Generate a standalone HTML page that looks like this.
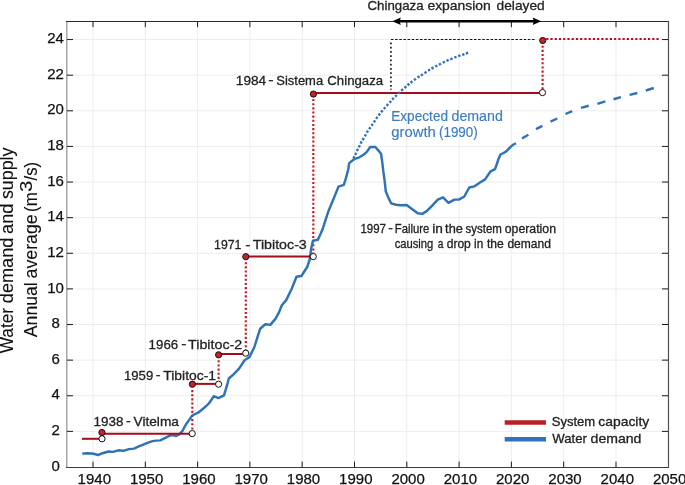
<!DOCTYPE html>
<html><head><meta charset="utf-8"><style>
html,body{margin:0;padding:0;background:#fff;}
svg{display:block;will-change:transform;}
text{font-family:"Liberation Sans",sans-serif;}
</style></head><body>
<svg width="685" height="485" viewBox="0 0 685 485">
<rect width="685" height="485" fill="#fff"/>
<g stroke="#ededed" stroke-width="1"><line x1="93.00" y1="21" x2="93.00" y2="467"/><line x1="145.30" y1="21" x2="145.30" y2="467"/><line x1="197.60" y1="21" x2="197.60" y2="467"/><line x1="249.90" y1="21" x2="249.90" y2="467"/><line x1="302.20" y1="21" x2="302.20" y2="467"/><line x1="354.50" y1="21" x2="354.50" y2="467"/><line x1="406.80" y1="21" x2="406.80" y2="467"/><line x1="459.10" y1="21" x2="459.10" y2="467"/><line x1="511.40" y1="21" x2="511.40" y2="467"/><line x1="563.70" y1="21" x2="563.70" y2="467"/><line x1="616.00" y1="21" x2="616.00" y2="467"/><line x1="67" y1="431.38" x2="668" y2="431.38"/><line x1="67" y1="395.76" x2="668" y2="395.76"/><line x1="67" y1="360.14" x2="668" y2="360.14"/><line x1="67" y1="324.52" x2="668" y2="324.52"/><line x1="67" y1="288.90" x2="668" y2="288.90"/><line x1="67" y1="253.28" x2="668" y2="253.28"/><line x1="67" y1="217.66" x2="668" y2="217.66"/><line x1="67" y1="182.04" x2="668" y2="182.04"/><line x1="67" y1="146.42" x2="668" y2="146.42"/><line x1="67" y1="110.80" x2="668" y2="110.80"/><line x1="67" y1="75.18" x2="668" y2="75.18"/><line x1="67" y1="39.56" x2="668" y2="39.56"/></g>
<g stroke="#1a1a1a" stroke-width="1"><line x1="93.00" y1="461.6" x2="93.00" y2="467"/><line x1="93.00" y1="21.5" x2="93.00" y2="27.2"/><line x1="145.30" y1="461.6" x2="145.30" y2="467"/><line x1="145.30" y1="21.5" x2="145.30" y2="27.2"/><line x1="197.60" y1="461.6" x2="197.60" y2="467"/><line x1="197.60" y1="21.5" x2="197.60" y2="27.2"/><line x1="249.90" y1="461.6" x2="249.90" y2="467"/><line x1="249.90" y1="21.5" x2="249.90" y2="27.2"/><line x1="302.20" y1="461.6" x2="302.20" y2="467"/><line x1="302.20" y1="21.5" x2="302.20" y2="27.2"/><line x1="354.50" y1="461.6" x2="354.50" y2="467"/><line x1="354.50" y1="21.5" x2="354.50" y2="27.2"/><line x1="406.80" y1="461.6" x2="406.80" y2="467"/><line x1="406.80" y1="21.5" x2="406.80" y2="27.2"/><line x1="459.10" y1="461.6" x2="459.10" y2="467"/><line x1="459.10" y1="21.5" x2="459.10" y2="27.2"/><line x1="511.40" y1="461.6" x2="511.40" y2="467"/><line x1="511.40" y1="21.5" x2="511.40" y2="27.2"/><line x1="563.70" y1="461.6" x2="563.70" y2="467"/><line x1="563.70" y1="21.5" x2="563.70" y2="27.2"/><line x1="616.00" y1="461.6" x2="616.00" y2="467"/><line x1="616.00" y1="21.5" x2="616.00" y2="27.2"/></g>
<rect x="66" y="21" width="1" height="447" fill="#a8a8a8"/><rect x="67" y="21" width="1" height="447" fill="#cfcfcf"/>
<line x1="66" y1="21.5" x2="668.5" y2="21.5" stroke="#2a2a2a" stroke-width="1.2"/>
<line x1="66" y1="467.5" x2="668.5" y2="467.5" stroke="#3c3c3c" stroke-width="1.2"/>
<line x1="668.5" y1="21" x2="668.5" y2="468" stroke="#505050" stroke-width="1.2"/>
<g stroke="#1a1a1a" stroke-width="1"><line x1="67" y1="431.38" x2="73" y2="431.38"/><line x1="662" y1="431.38" x2="668" y2="431.38"/><line x1="67" y1="395.76" x2="73" y2="395.76"/><line x1="662" y1="395.76" x2="668" y2="395.76"/><line x1="67" y1="360.14" x2="73" y2="360.14"/><line x1="662" y1="360.14" x2="668" y2="360.14"/><line x1="67" y1="324.52" x2="73" y2="324.52"/><line x1="662" y1="324.52" x2="668" y2="324.52"/><line x1="67" y1="288.90" x2="73" y2="288.90"/><line x1="662" y1="288.90" x2="668" y2="288.90"/><line x1="67" y1="253.28" x2="73" y2="253.28"/><line x1="662" y1="253.28" x2="668" y2="253.28"/><line x1="67" y1="217.66" x2="73" y2="217.66"/><line x1="662" y1="217.66" x2="668" y2="217.66"/><line x1="67" y1="182.04" x2="73" y2="182.04"/><line x1="662" y1="182.04" x2="668" y2="182.04"/><line x1="67" y1="146.42" x2="73" y2="146.42"/><line x1="662" y1="146.42" x2="668" y2="146.42"/><line x1="67" y1="110.80" x2="73" y2="110.80"/><line x1="662" y1="110.80" x2="668" y2="110.80"/><line x1="67" y1="75.18" x2="73" y2="75.18"/><line x1="662" y1="75.18" x2="668" y2="75.18"/><line x1="67" y1="39.56" x2="73" y2="39.56"/><line x1="662" y1="39.56" x2="668" y2="39.56"/></g>
<g font-size="15" fill="#111" stroke="#111" stroke-width="0.25"><text x="55.6" y="470.6" text-anchor="middle">0</text><text x="55.6" y="435.0" text-anchor="middle">2</text><text x="55.6" y="399.4" text-anchor="middle">4</text><text x="55.6" y="363.7" text-anchor="middle">6</text><text x="55.6" y="328.1" text-anchor="middle">8</text><text x="55.6" y="292.5" text-anchor="middle">10</text><text x="55.6" y="256.9" text-anchor="middle">12</text><text x="55.6" y="221.3" text-anchor="middle">14</text><text x="55.6" y="185.6" text-anchor="middle">16</text><text x="55.6" y="150.0" text-anchor="middle">18</text><text x="55.6" y="114.4" text-anchor="middle">20</text><text x="55.6" y="78.8" text-anchor="middle">22</text><text x="55.6" y="43.2" text-anchor="middle">24</text><text x="94.3" y="484.4" text-anchor="middle">1940</text><text x="146.6" y="484.4" text-anchor="middle">1950</text><text x="198.9" y="484.4" text-anchor="middle">1960</text><text x="251.2" y="484.4" text-anchor="middle">1970</text><text x="303.5" y="484.4" text-anchor="middle">1980</text><text x="355.8" y="484.4" text-anchor="middle">1990</text><text x="408.1" y="484.4" text-anchor="middle">2000</text><text x="460.4" y="484.4" text-anchor="middle">2010</text><text x="512.7" y="484.4" text-anchor="middle">2020</text><text x="565.0" y="484.4" text-anchor="middle">2030</text><text x="617.3" y="484.4" text-anchor="middle">2040</text><text x="669.6" y="484.4" text-anchor="middle">2050</text></g>
<path d="M390.95,39.5 H535.5" stroke="#111" stroke-width="1.1" stroke-dasharray="2.5 1.65" fill="none"/>
<path d="M390.9,86.7 V40" stroke="#111" stroke-width="1.6" stroke-dasharray="1.8 2.45" fill="none"/><rect x="390.1" y="88.6" width="1.6" height="1.2" fill="#333"/>
<g stroke="#c4161c" stroke-width="2.1" stroke-dasharray="2.1 2.05" fill="none"><path d="M192.3,390.05 V430.5"/><path d="M218.6,360.25 V381.0"/><path d="M245.8,262.15 V350.0"/><path d="M313.3,99.01 V253.5"/><path d="M542.6,45.65 V89.4"/></g>
<path d="M546.2,39.0 H659" stroke="#b0121e" stroke-width="2.2" stroke-dasharray="2.2 2.04" fill="none"/>
<polyline points="82.2,453.6 86.8,453.2 92.0,453.5 95.5,454.3 98.0,455.0 100.8,453.8 104.3,452.8 108.6,451.5 113.0,451.9 118.3,450.3 123.5,450.8 128.8,449.1 134.0,448.6 139.4,446.1 143.8,444.3 148.1,442.6 152.5,441.1 156.0,440.6 160.4,440.4 164.8,438.2 169.2,435.8 172.7,435.0 176.2,436.0 178.8,434.7 182.3,431.2 185.9,424.5 189.2,419.9 192.4,415.3 198.5,412.5 203.6,408.3 208.7,403.7 213.8,396.2 218.4,398.1 224.0,395.3 225.8,389.3 227.7,382.8 228.8,378.5 233.5,374.4 238.6,369.2 241.7,364.6 244.8,360.0 249.4,357.1 254.4,347.0 257.3,337.6 260.2,328.7 265.3,324.3 270.3,324.9 275.4,318.9 279.0,312.4 281.8,305.2 286.2,300.1 291.5,289.2 296.5,276.8 301.4,276.0 307.2,267.0 309.7,259.5 311.3,248.0 313.0,240.6 317.9,239.8 320.5,234.0 322.5,229.5 325.8,219.1 328.7,210.4 333.0,200.3 338.5,186.6 343.8,184.9 346.0,177.9 348.1,170.0 349.1,163.5 351.2,161.4 354.8,158.8 359.4,157.3 363.5,154.7 366.6,152.1 370.2,147.0 375.4,147.0 378.5,150.6 381.0,153.7 382.1,160.9 383.3,171.2 384.6,180.5 385.8,191.5 388.7,198.4 391.2,203.4 396.1,204.7 401.0,205.2 406.6,205.0 412.3,209.3 417.7,213.3 422.3,213.9 427.0,210.9 432.2,205.7 437.8,199.7 443.0,197.3 448.5,202.8 454.4,199.6 458.8,199.6 464.3,196.5 469.3,187.5 474.2,186.4 479.6,182.7 485.1,179.4 490.6,171.3 495.0,169.1 496.5,165.0 498.3,159.6 500.5,154.5 502.6,153.5 505.9,151.7 508.4,149.1 510.9,146.6 513.1,144.8 516.0,143.2" fill="none" stroke="#2e72b8" stroke-width="2.45" stroke-linejoin="round" stroke-linecap="butt"/>
<g stroke="#2e72b8" stroke-width="2.45"><line x1="521.9" y1="138.5" x2="528.4" y2="134.8"/><line x1="536" y1="129.2" x2="542.4" y2="125.9"/><line x1="550.5" y1="121.6" x2="557.3" y2="118.5"/><line x1="565.5" y1="114" x2="572.2" y2="111.1"/><line x1="581" y1="107.9" x2="588.7" y2="105.8"/><line x1="597.4" y1="103.8" x2="605.4" y2="101.4"/><line x1="613.5" y1="99.2" x2="620.9" y2="97.1"/><line x1="629.6" y1="94.9" x2="637.3" y2="93"/><line x1="645.8" y1="90.5" x2="653.8" y2="88"/></g>
<g stroke="#a30d19" stroke-width="2"><line x1="82" y1="438.8" x2="102" y2="438.8"/><line x1="102" y1="433.7" x2="192.3" y2="433.7"/><line x1="192.3" y1="383.9" x2="218.6" y2="383.9"/><line x1="218.6" y1="354" x2="245.8" y2="354"/><line x1="245.8" y1="256.6" x2="313.3" y2="256.6"/><line x1="313.3" y1="92.9" x2="542.5" y2="92.9"/></g>
<g stroke="#111" stroke-width="1"><circle cx="102" cy="438.8" r="3.1" fill="#fff"/><circle cx="192.2" cy="433.6" r="3.1" fill="#fff"/><circle cx="218.6" cy="384.2" r="3.1" fill="#fff"/><circle cx="245.7" cy="353.2" r="3.1" fill="#fff"/><circle cx="313.3" cy="256.6" r="3.1" fill="#fff"/><circle cx="542.5" cy="92.6" r="3.1" fill="#fff"/><circle cx="101.9" cy="432.5" r="3.1" fill="#c8202a"/><circle cx="192.4" cy="384.2" r="3.1" fill="#c8202a"/><circle cx="218.6" cy="354.8" r="3.1" fill="#c8202a"/><circle cx="245.8" cy="256.7" r="3.1" fill="#c8202a"/><circle cx="313.4" cy="94.1" r="3.1" fill="#c8202a"/><circle cx="542.7" cy="40.5" r="3.1" fill="#c8202a"/></g>
<g stroke="#2e72b8" stroke-width="2.4"><line x1="353.36" y1="158.47" x2="354.44" y2="156.33"/><line x1="355.19" y1="154.89" x2="356.21" y2="152.71"/><line x1="356.88" y1="150.98" x2="357.92" y2="148.82"/><line x1="358.76" y1="147.37" x2="359.84" y2="145.23"/><line x1="360.53" y1="143.56" x2="361.67" y2="141.44"/><line x1="362.58" y1="140.03" x2="363.82" y2="137.97"/><line x1="364.81" y1="136.34" x2="365.99" y2="134.26"/><line x1="366.77" y1="132.62" x2="368.03" y2="130.58"/><line x1="369.12" y1="129.19" x2="370.48" y2="127.21"/><line x1="371.42" y1="125.79" x2="372.78" y2="123.81"/><line x1="373.82" y1="122.29" x2="375.18" y2="120.31"/><line x1="376.11" y1="118.88" x2="377.49" y2="116.92"/><line x1="378.57" y1="115.45" x2="380.03" y2="113.55"/><line x1="381.13" y1="112.22" x2="382.67" y2="110.38"/><line x1="383.81" y1="109.01" x2="385.39" y2="107.19"/><line x1="386.59" y1="105.84" x2="388.21" y2="104.06"/><line x1="389.50" y1="102.74" x2="391.10" y2="100.96"/><line x1="392.17" y1="99.57" x2="393.83" y2="97.83"/><line x1="395.13" y1="96.73" x2="396.87" y2="95.07"/><line x1="398.29" y1="93.68" x2="400.01" y2="92.02"/><line x1="401.26" y1="90.76" x2="403.04" y2="89.14"/><line x1="404.45" y1="87.99" x2="406.25" y2="86.41"/><line x1="407.48" y1="85.27" x2="409.32" y2="83.73"/><line x1="410.56" y1="82.74" x2="412.44" y2="81.26"/><line x1="413.93" y1="80.11" x2="415.87" y2="78.69"/><line x1="417.50" y1="77.56" x2="419.50" y2="76.24"/><line x1="420.88" y1="75.44" x2="422.92" y2="74.16"/><line x1="424.49" y1="73.15" x2="426.51" y2="71.85"/><line x1="428.09" y1="70.85" x2="430.11" y2="69.55"/><line x1="431.46" y1="68.60" x2="433.54" y2="67.40"/><line x1="435.23" y1="66.55" x2="437.37" y2="65.45"/><line x1="438.83" y1="64.74" x2="440.97" y2="63.66"/><line x1="442.72" y1="62.73" x2="444.88" y2="61.67"/><line x1="446.50" y1="60.88" x2="448.70" y2="59.92"/><line x1="450.29" y1="59.36" x2="452.51" y2="58.44"/><line x1="454.29" y1="57.65" x2="456.51" y2="56.75"/><line x1="458.17" y1="56.10" x2="460.43" y2="55.30"/><line x1="462.16" y1="54.78" x2="464.44" y2="54.02"/><line x1="465.87" y1="53.50" x2="468.13" y2="52.70"/></g>
<line x1="398" y1="21.2" x2="535" y2="21.2" stroke="#000" stroke-width="2.5"/>
<path d="M392.3,21.3 L400.8,17.5 L399.6,21.3 L400.8,25.1 Z" fill="#000"/>
<path d="M541.2,21.3 L532.7,17.5 L533.9,21.3 L532.7,25.1 Z" fill="#000"/>
<g font-size="13.5" fill="#222" stroke="#222" stroke-width="0.3"><text x="367.44" y="10.30" textLength="56.17" lengthAdjust="spacingAndGlyphs">Chingaza</text><text x="427.41" y="10.30" textLength="63.42" lengthAdjust="spacingAndGlyphs">expansion</text><text x="496.62" y="10.30" textLength="48.05" lengthAdjust="spacingAndGlyphs">delayed</text></g>
<g font-size="13.5" fill="#222" stroke="#222" stroke-width="0.3"><text x="235.88" y="84.80" textLength="30.33" lengthAdjust="spacingAndGlyphs">1984</text><text x="268.28" y="84.00" textLength="5.36" lengthAdjust="spacingAndGlyphs">-</text><text x="276.32" y="84.80" textLength="46.81" lengthAdjust="spacingAndGlyphs">Sistema</text><text x="327.34" y="84.80" textLength="55.76" lengthAdjust="spacingAndGlyphs">Chingaza</text></g>
<g font-size="13.8" fill="#3b7cc2" stroke="#3b7cc2" stroke-width="0.15"><text x="391.17" y="120.80" textLength="56.91" lengthAdjust="spacingAndGlyphs">Expected</text><text x="451.50" y="120.80" textLength="51.31" lengthAdjust="spacingAndGlyphs">demand</text></g>
<g font-size="13.8" fill="#3b7cc2" stroke="#3b7cc2" stroke-width="0.15"><text x="391.37" y="137.00" textLength="44.52" lengthAdjust="spacingAndGlyphs">growth</text><text x="438.96" y="137.00" textLength="38.79" lengthAdjust="spacingAndGlyphs">(1990)</text></g>
<g font-size="12.3" fill="#222" stroke="#222" stroke-width="0.3"><text x="360.44" y="232.50" textLength="25.56" lengthAdjust="spacingAndGlyphs">1997</text><text x="388.27" y="231.70" textLength="4.67" lengthAdjust="spacingAndGlyphs">-</text><text x="394.87" y="232.50" textLength="34.53" lengthAdjust="spacingAndGlyphs">Failure</text><text x="432.18" y="232.50" textLength="10.62" lengthAdjust="spacingAndGlyphs">in</text><text x="445.11" y="232.50" textLength="17.74" lengthAdjust="spacingAndGlyphs">the</text><text x="465.48" y="232.50" textLength="36.46" lengthAdjust="spacingAndGlyphs">system</text><text x="504.78" y="232.50" textLength="51.22" lengthAdjust="spacingAndGlyphs">operation</text></g>
<g font-size="12.3" fill="#222" stroke="#222" stroke-width="0.3"><text x="394.72" y="247.70" textLength="38.60" lengthAdjust="spacingAndGlyphs">causing</text><text x="437.87" y="247.70" textLength="5.64" lengthAdjust="spacingAndGlyphs">a</text><text x="446.69" y="247.70" textLength="24.11" lengthAdjust="spacingAndGlyphs">drop</text><text x="474.10" y="247.70" textLength="9.17" lengthAdjust="spacingAndGlyphs">in</text><text x="486.92" y="247.70" textLength="16.80" lengthAdjust="spacingAndGlyphs">the</text><text x="507.39" y="247.70" textLength="43.48" lengthAdjust="spacingAndGlyphs">demand</text></g>
<g font-size="13.5" fill="#222" stroke="#222" stroke-width="0.3"><text x="214.08" y="249.30" textLength="27.33" lengthAdjust="spacingAndGlyphs">1971</text><text x="245.39" y="248.50" textLength="5.22" lengthAdjust="spacingAndGlyphs">-</text><text x="252.78" y="249.30" textLength="54.02" lengthAdjust="spacingAndGlyphs">Tibitoc-3</text></g>
<g font-size="13.5" fill="#222" stroke="#222" stroke-width="0.3"><text x="148.60" y="348.50" textLength="29.59" lengthAdjust="spacingAndGlyphs">1966</text><text x="181.29" y="347.70" textLength="5.22" lengthAdjust="spacingAndGlyphs">-</text><text x="188.08" y="348.50" textLength="54.13" lengthAdjust="spacingAndGlyphs">Tibitoc-2</text></g>
<g font-size="13.5" fill="#222" stroke="#222" stroke-width="0.3"><text x="124.02" y="379.50" textLength="29.20" lengthAdjust="spacingAndGlyphs">1959</text><text x="155.75" y="378.70" textLength="4.81" lengthAdjust="spacingAndGlyphs">-</text><text x="163.29" y="379.50" textLength="52.77" lengthAdjust="spacingAndGlyphs">Tibitoc-1</text></g>
<g font-size="13.5" fill="#222" stroke="#222" stroke-width="0.3"><text x="93.59" y="426.10" textLength="29.91" lengthAdjust="spacingAndGlyphs">1938</text><text x="126.05" y="425.30" textLength="4.81" lengthAdjust="spacingAndGlyphs">-</text><text x="133.53" y="426.10" textLength="45.39" lengthAdjust="spacingAndGlyphs">Vitelma</text></g>
<g font-size="12.8" fill="#222" stroke="#222" stroke-width="0.3"><text x="551.71" y="426.00" textLength="43.56" lengthAdjust="spacingAndGlyphs">System</text><text x="598.31" y="426.00" textLength="50.94" lengthAdjust="spacingAndGlyphs">capacity</text></g>
<g font-size="12.8" fill="#222" stroke="#222" stroke-width="0.3"><text x="552.23" y="442.80" textLength="34.66" lengthAdjust="spacingAndGlyphs">Water</text><text x="590.60" y="442.80" textLength="50.80" lengthAdjust="spacingAndGlyphs">demand</text></g>
<g font-size="18" fill="#111" stroke="#111" stroke-width="0.1" transform="rotate(-90)"><text x="-353.29" y="13.40" textLength="45.34" lengthAdjust="spacingAndGlyphs">Water</text><text x="-303.17" y="13.40" textLength="65.53" lengthAdjust="spacingAndGlyphs">demand</text><text x="-233.98" y="13.40" textLength="30.43" lengthAdjust="spacingAndGlyphs">and</text><text x="-199.09" y="13.40" textLength="51.55" lengthAdjust="spacingAndGlyphs">supply</text></g>
<g font-size="18" fill="#111" stroke="#111" stroke-width="0.1" transform="rotate(-90)"><text x="-337.14" y="36.50" textLength="54.81" lengthAdjust="spacingAndGlyphs">Annual</text><text x="-278.45" y="36.50" textLength="64.13" lengthAdjust="spacingAndGlyphs">average</text><text x="-211.95" y="36.50" textLength="19.67" lengthAdjust="spacingAndGlyphs">(m</text><text x="-180.50" y="36.50" textLength="18.66" lengthAdjust="spacingAndGlyphs">/s)</text></g>
<g font-size="16" fill="#111" stroke="#111" stroke-width="0.1" transform="rotate(-90)"><text x="-192.07" y="32.00" textLength="11.36" lengthAdjust="spacingAndGlyphs">3</text></g>
<line x1="504.7" y1="422.5" x2="546" y2="422.5" stroke="#bb1f24" stroke-width="4.4"/>
<line x1="504.7" y1="439.3" x2="546" y2="439.3" stroke="#2e72b8" stroke-width="4.4"/>
</svg></body></html>
